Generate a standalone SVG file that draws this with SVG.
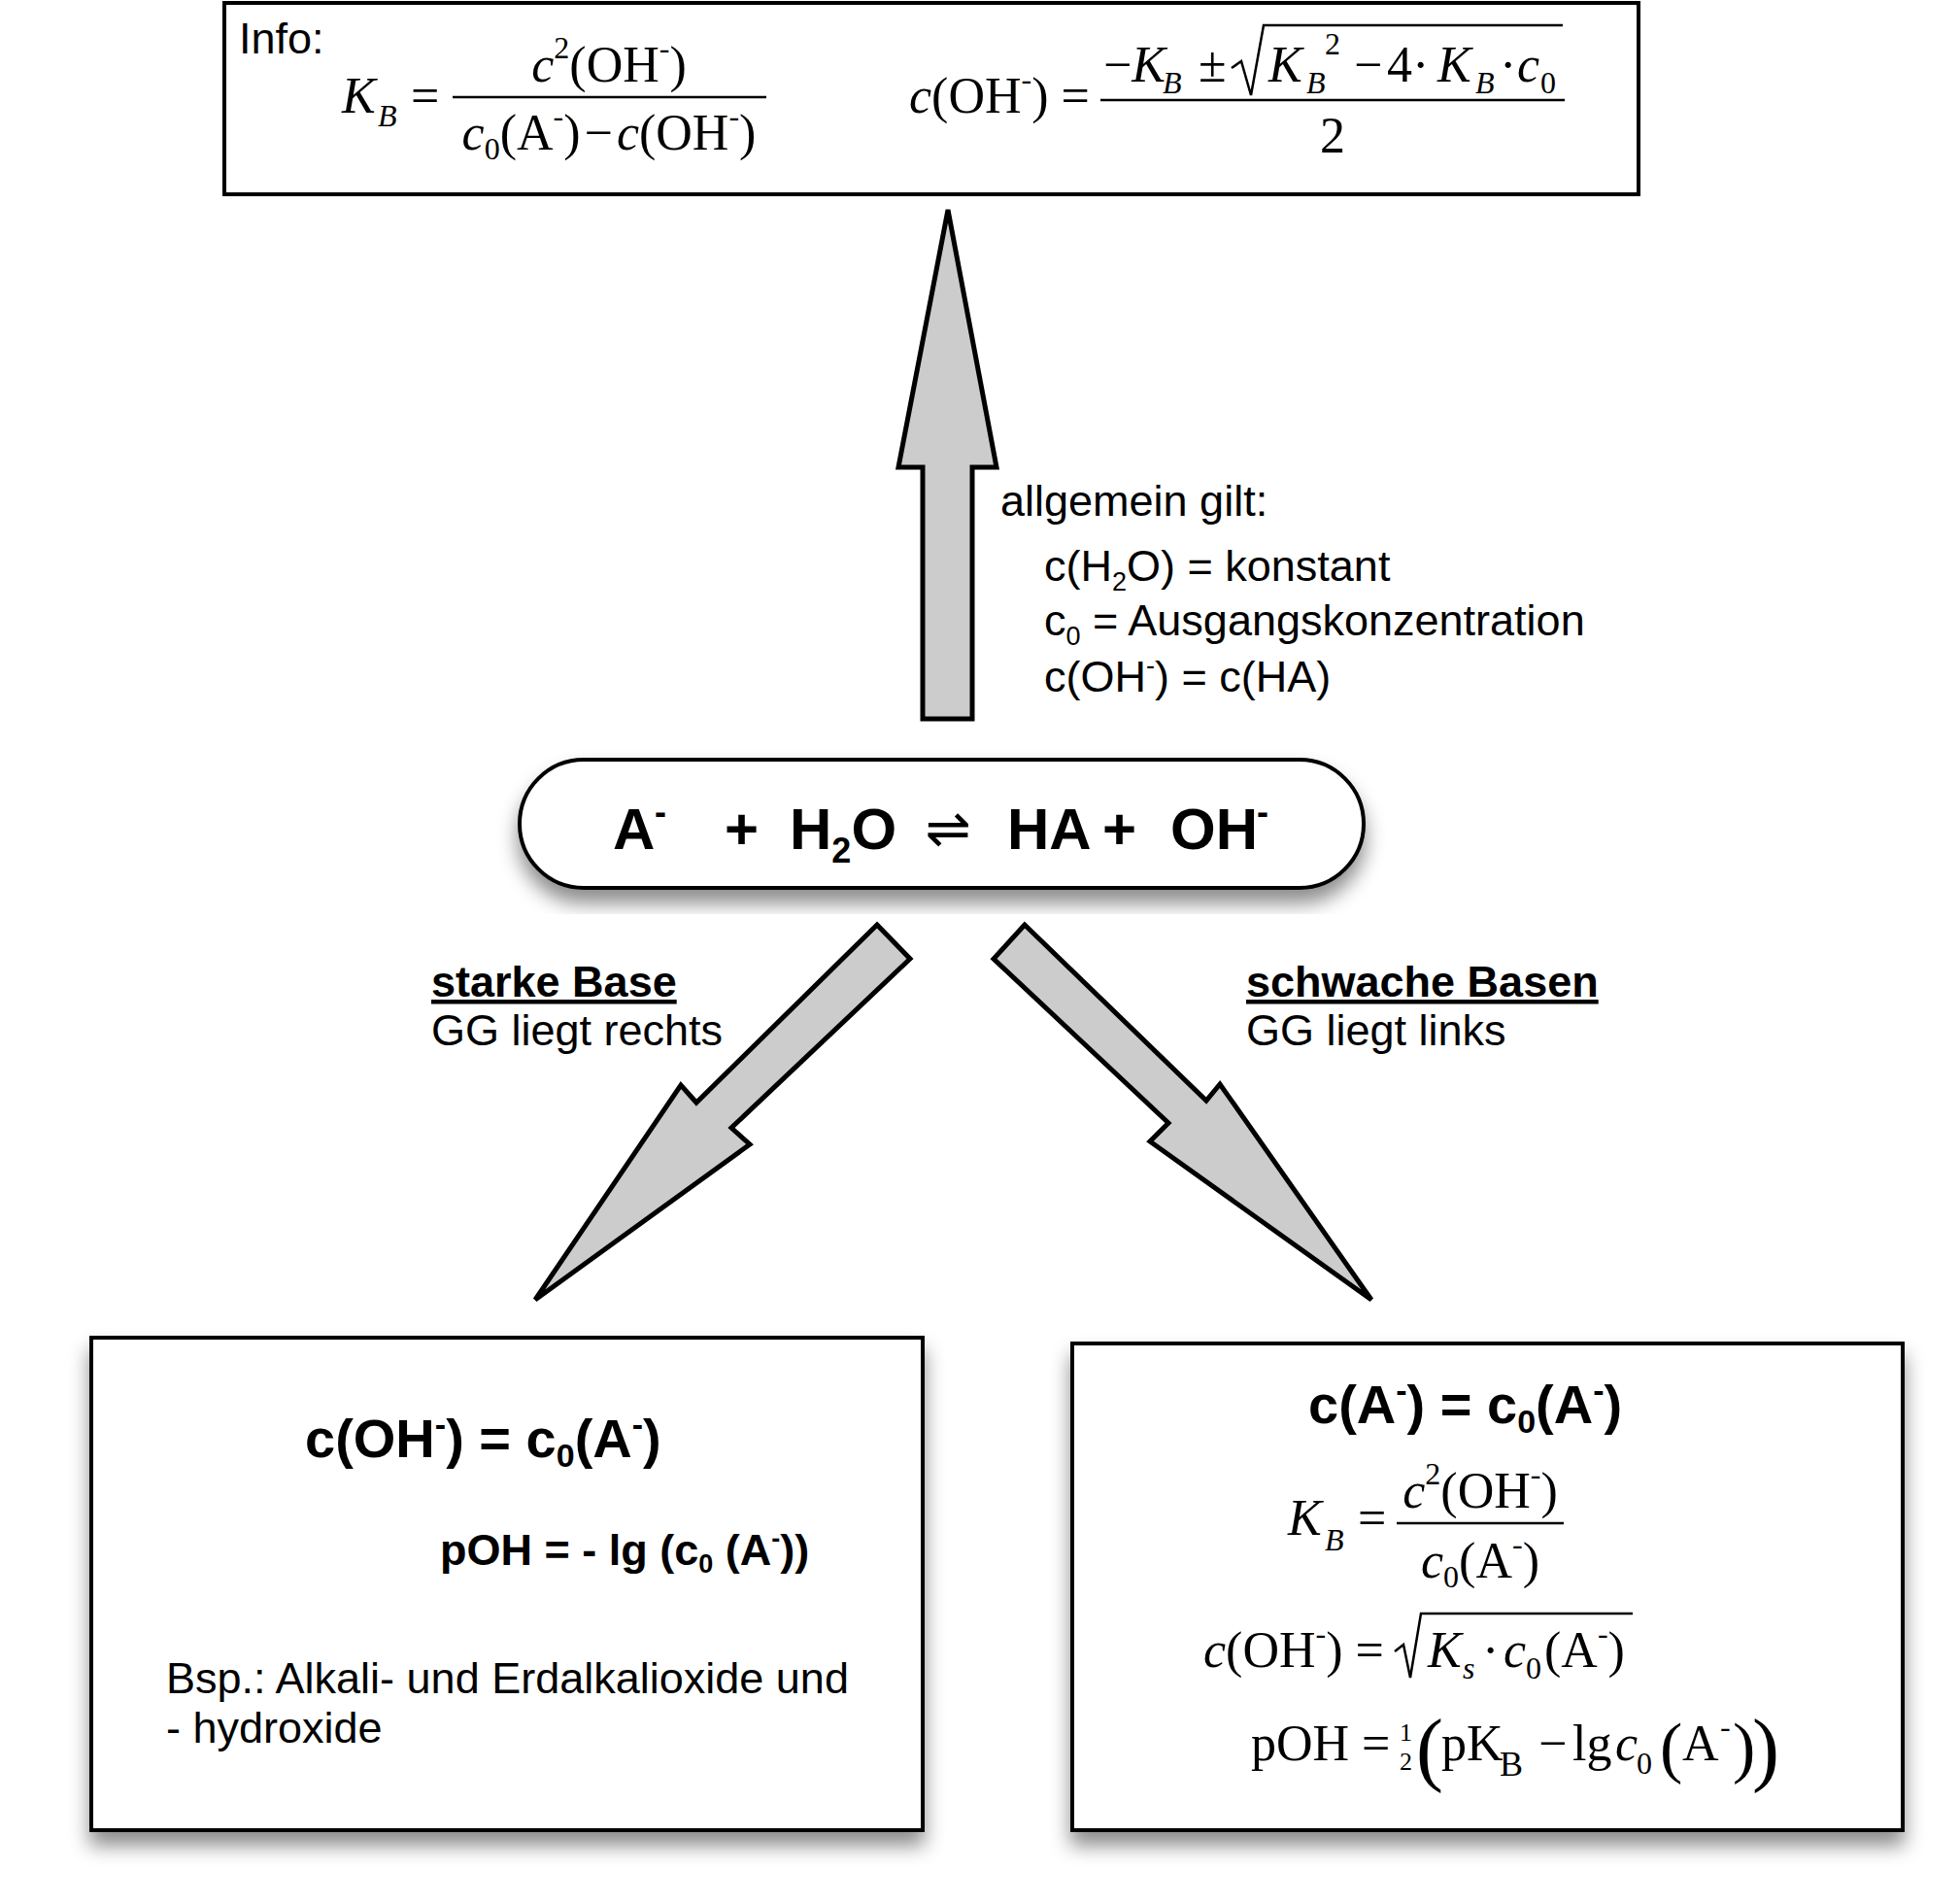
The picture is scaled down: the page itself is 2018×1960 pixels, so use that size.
<svg xmlns="http://www.w3.org/2000/svg" width="2018" height="1960" viewBox="0 0 2018 1960">
<defs>
<filter id="sh" x="-10%" y="-10%" width="120%" height="130%">
<feDropShadow dx="0" dy="14" stdDeviation="10" flood-color="#000" flood-opacity="0.45"/>
</filter>
<style>
.box{fill:#fff;stroke:#000;stroke-width:4}
.arr{fill:#cccccc;stroke:#000;stroke-width:5;stroke-linejoin:miter}
.s{font-family:"Liberation Sans",Arial,sans-serif;font-size:45px;fill:#000}
.b{font-family:"Liberation Sans",Arial,sans-serif;font-weight:bold;fill:#000}
.m{font-family:"Liberation Serif","Times New Roman",serif;font-size:52px;fill:#000}
.m.t{font-size:32px}
.i{font-style:italic}
.ln{stroke:#000;stroke-width:2.5;fill:none}
</style>
</defs>
<rect width="2018" height="1960" fill="#fff"/>

<g id="connectors">
<polygon class="arr" points="976,216 1026,481 1001,481 1001,740 950,740 950,481 925,481"/>
<polygon class="arr" points="903,952 937,987 753,1161 772,1178 551,1338 701,1117 717,1135"/>
<polygon class="arr" points="1055,952 1023,987 1203,1156 1184,1175 1412,1338 1256,1116 1242,1133"/>
</g>

<g id="info">
<rect class="box" x="231" y="3" width="1456" height="197"/>
<text class="s" x="246" y="55">Info:</text>
<text class="m i" x="352" y="116">K</text>
<text class="m i t" x="389" y="130">B</text>
<text class="m" x="423" y="116">=</text>
<line class="ln" x1="466" y1="100" x2="789" y2="100"/>
<text class="m" x="627" y="84" text-anchor="middle"><tspan class="i">c</tspan><tspan font-size="32" dy="-24">2</tspan><tspan dy="24">(OH</tspan><tspan font-size="32" dy="-24">-</tspan><tspan dy="24">)</tspan></text>
<text class="m" x="627" y="154" text-anchor="middle"><tspan class="i">c</tspan><tspan font-size="32" dy="10">0</tspan><tspan dy="-10">(A</tspan><tspan font-size="32" dy="-24">-</tspan><tspan dy="24">)</tspan><tspan dx="4">−</tspan><tspan class="i" dx="4">c</tspan><tspan>(OH</tspan><tspan font-size="32" dy="-24">-</tspan><tspan dy="24">)</tspan></text>

<text class="m" x="936" y="116"><tspan class="i">c</tspan><tspan>(OH</tspan><tspan font-size="32" dy="-24">-</tspan><tspan dy="24">) =</tspan></text>
<line class="ln" x1="1133" y1="103" x2="1611" y2="103"/>
<text class="m" x="1136" y="84">−<tspan class="i">K</tspan></text>
<text class="m i t" x="1197" y="96">B</text>
<text class="m" x="1234" y="84">±</text>
<path class="ln" d="M1268,70 L1278,63 L1288,98 L1301,26 L1609,26"/>
<text class="m i" x="1306" y="84">K</text>
<text class="m i t" x="1345" y="96">B</text>
<text class="m t" x="1364" y="56">2</text>
<text class="m" x="1394" y="84">−</text>
<text class="m" x="1428" y="84">4·</text>
<text class="m i" x="1480" y="84">K</text>
<text class="m i t" x="1519" y="96">B</text>
<text class="m" x="1544" y="84">·</text>
<text class="m i" x="1562" y="84">c</text>
<text class="m t" x="1586" y="96">0</text>
<text class="m" x="1372" y="157" text-anchor="middle">2</text>
</g>

<g id="note">
<text class="s" x="1030" y="531">allgemein gilt:</text>
<text class="s" x="1075" y="598">c(H<tspan font-size="27" dy="10">2</tspan><tspan dy="-10">O) = konstant</tspan></text>
<text class="s" x="1075" y="654">c<tspan font-size="27" dy="10">0</tspan><tspan dy="-10"> = Ausgangskonzentration</tspan></text>
<text class="s" x="1075" y="712">c(OH<tspan font-size="27" dy="-18">-</tspan><tspan dy="18">) = c(HA)</tspan></text>
</g>

<g id="reaction">
<rect class="box" x="535" y="782" width="869" height="132" rx="66" ry="66" filter="url(#sh)"/>
<text class="b" x="631" y="874" font-size="60">A</text>
<text class="b" x="674" y="848" font-size="36">-</text>
<text class="b" x="746" y="874" font-size="60">+</text>
<text class="b" x="813" y="874" font-size="60">H<tspan font-size="36" dy="14">2</tspan><tspan dy="-14">O</tspan></text>
<text x="976" y="872" font-family="DejaVu Sans, sans-serif" font-size="56" text-anchor="middle">⇌</text>
<text class="b" x="1037" y="874" font-size="60">HA</text>
<text class="b" x="1135" y="874" font-size="60">+</text>
<text class="b" x="1205" y="874" font-size="60">OH</text>
<text class="b" x="1294" y="848" font-size="36">-</text>
</g>

<g id="label-left">
<text class="b" x="444" y="1026" font-size="45" text-decoration="underline">starke Base</text>
<text class="s" x="444" y="1076">GG liegt rechts</text>
</g>
<g id="label-right">
<text class="b" x="1283" y="1026" font-size="45" text-decoration="underline">schwache Basen</text>
<text class="s" x="1283" y="1076">GG liegt links</text>
</g>

<g id="strong">
<rect class="box" x="94" y="1377" width="856" height="507" filter="url(#sh)"/>
<text class="b" x="314" y="1500" font-size="56">c(OH<tspan font-size="34" dy="-22">-</tspan><tspan dy="22">) = c</tspan><tspan font-size="34" dy="10">0</tspan><tspan dy="-10">(A</tspan><tspan font-size="34" dy="-22">-</tspan><tspan dy="22">)</tspan></text>
<text class="b" x="453" y="1611" font-size="45">pOH = - lg (c<tspan font-size="27" dy="8">0</tspan><tspan dy="-8"> (A</tspan><tspan font-size="27" dy="-18">-</tspan><tspan dy="18">))</tspan></text>
<text class="s" x="171" y="1743">Bsp.: Alkali- und Erdalkalioxide und</text>
<text class="s" x="171" y="1794">- hydroxide</text>
</g>

<g id="weak">
<rect class="box" x="1104" y="1383" width="855" height="501" filter="url(#sh)"/>
<text class="b" x="1347" y="1465" font-size="56">c(A<tspan font-size="34" dy="-22">-</tspan><tspan dy="22">) = c</tspan><tspan font-size="34" dy="10">0</tspan><tspan dy="-10">(A</tspan><tspan font-size="34" dy="-22">-</tspan><tspan dy="22">)</tspan></text>

<text class="m i" x="1326" y="1580">K</text>
<text class="m i t" x="1364" y="1596">B</text>
<text class="m" x="1398" y="1580">=</text>
<line class="ln" x1="1438" y1="1568" x2="1610" y2="1568"/>
<text class="m" x="1524" y="1552" text-anchor="middle"><tspan class="i">c</tspan><tspan font-size="32" dy="-24">2</tspan><tspan dy="24">(OH</tspan><tspan font-size="32" dy="-24">-</tspan><tspan dy="24">)</tspan></text>
<text class="m" x="1524" y="1624" text-anchor="middle"><tspan class="i">c</tspan><tspan font-size="32" dy="10">0</tspan><tspan dy="-10">(A</tspan><tspan font-size="32" dy="-24">-</tspan><tspan dy="24">)</tspan></text>

<text class="m" x="1239" y="1716"><tspan class="i">c</tspan><tspan>(OH</tspan><tspan font-size="32" dy="-24">-</tspan><tspan dy="24">) =</tspan></text>
<path class="ln" d="M1436,1700 L1445,1693 L1452,1727 L1463,1661 L1681,1661"/>
<text class="m i" x="1470" y="1716">K</text>
<text class="m i t" x="1506" y="1728">s</text>
<text class="m" x="1526" y="1716">·</text>
<text class="m i" x="1548" y="1716">c</text>
<text class="m t" x="1571" y="1728">0</text>
<text class="m" x="1590" y="1716">(A<tspan font-size="32" dy="-24">-</tspan><tspan dy="24">)</tspan></text>

<text class="m" x="1288" y="1812">pOH =</text>
<text class="m" x="1441" y="1792" style="font-size:26px">1</text>
<text class="m" x="1441" y="1822" style="font-size:26px">2</text>
<text class="m" x="1458" y="1828" style="font-size:84px">(</text>
<text class="m" x="1484" y="1812">pK</text>
<text class="m" x="1544" y="1828" style="font-size:36px">B</text>
<text class="m" x="1584" y="1812">−</text>
<text class="m" x="1619" y="1812">lg</text>
<text class="m i" x="1663" y="1812">c</text>
<text class="m t" x="1685" y="1826">0</text>
<text class="m" x="1709" y="1822" style="font-size:70px">(</text>
<text class="m" x="1732" y="1812">A</text>
<text class="m t" x="1771" y="1788">-</text>
<text class="m" x="1784" y="1822" style="font-size:70px">)</text>
<text class="m" x="1804" y="1828" style="font-size:84px">)</text>
</g>
</svg>
